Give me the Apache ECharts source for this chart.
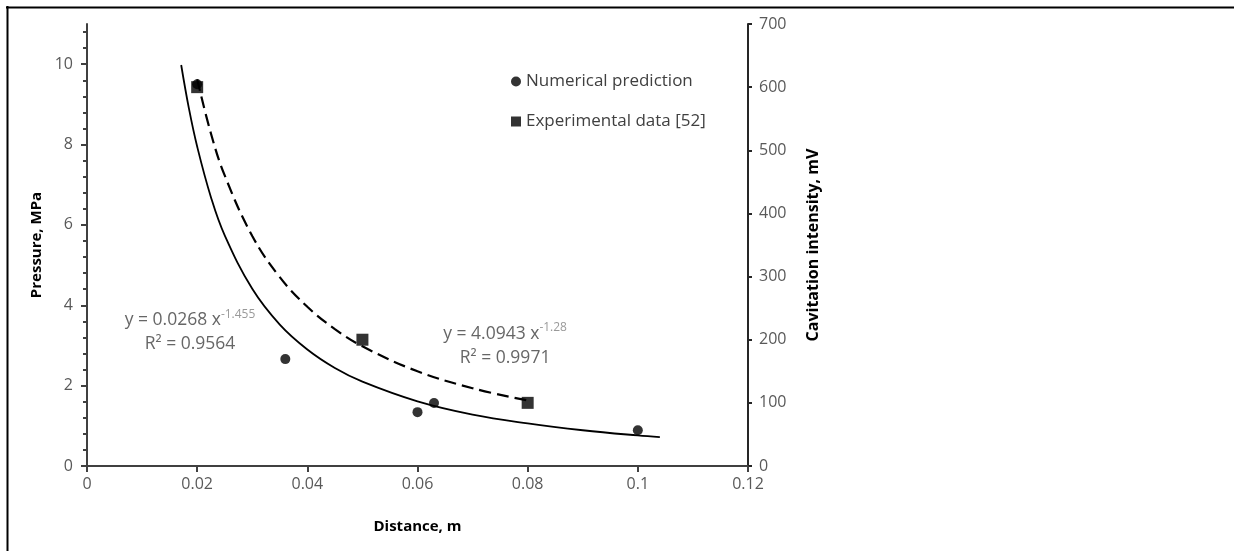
<!DOCTYPE html>
<html>
<head>
<meta charset="utf-8">
<script src="https://cdn.jsdelivr.net/npm/echarts@6/dist/echarts.min.js"></script>
<style>
html,body{margin:0;padding:0;background:#fff;}
#chart{width:1234px;height:551px;}
</style>
</head>
<body>
<div id="chart"></div>
<script>
// ---- data ----
const numericalX = [0.02, 0.036, 0.06, 0.063, 0.1];
const numericalY = [9.5, 2.66, 1.34, 1.57, 0.89];          // Pressure, MPa
const experimentalX = [0.02, 0.05, 0.08];
const experimentalY = [600, 200, 100];                      // Cavitation intensity, mV
// trendline y = 0.0268 x^-1.455
const fitNumX = [0.0171, 0.0185, 0.02, 0.0225, 0.025, 0.03, 0.035, 0.04, 0.045, 0.05, 0.06, 0.07, 0.08, 0.09, 0.1, 0.104];
const fitNumY = [9.98, 8.90, 7.95, 6.69, 5.74, 4.41, 3.52, 2.90, 2.44, 2.10, 1.61, 1.28, 1.06, 0.89, 0.76, 0.72];
// trendline y = 4.0943 x^-1.28
const fitExpX = [0.02, 0.0225, 0.025, 0.03, 0.035, 0.04, 0.045, 0.05, 0.06, 0.07, 0.08];
const fitExpY = [612.6, 526.6, 460.2, 364.4, 299.1, 252.1, 216.8, 189.5, 150.0, 123.2, 103.8];
const leftMajorTicks = [0, 2, 4, 6, 8, 10];
const leftMinorTicks = [0.4, 0.8, 1.2, 1.6, 2.4, 2.8, 3.2, 3.6, 4.4, 4.8, 5.2, 5.6, 6.4, 6.8, 7.2, 7.6, 8.4, 8.8, 9.2, 9.6, 10.4, 10.8];
const eq1 = ['y = 0.0268 x', '-1.455', 'R² = 0.9564'];
const eq2 = ['y = 4.0943 x', '-1.28', 'R² = 0.9971'];
const eq1Pos = [0.0187, 3.33];
const eq2Pos = [0.0759, 2.99];

const FONT = '"Open Sans", "Noto Sans", sans-serif';
const zip = (a, b) => a.map((v, i) => [v, b[i]]);

const chart = echarts.init(document.getElementById('chart'), null, {renderer: 'canvas'});

const eqRich = {
  a: {fontSize: 17.5, color: '#404040', fontFamily: FONT, lineHeight: 24},
  s: {fontSize: 12, color: '#7f7f7f', fontFamily: FONT, verticalAlign: 'top', lineHeight: 24}
};

const option = {
  animation: false,
  backgroundColor: '#fff',
  textStyle: {fontFamily: FONT},
  grid: {left: 87, right: 486, top: 24, bottom: 85, containLabel: false},
  legend: {
    orient: 'vertical',
    left: 511,
    top: 73,
    padding: 0,
    itemGap: 23,
    itemWidth: 10,
    itemHeight: 10,
    textStyle: {fontSize: 17, color: '#404040', fontFamily: FONT},
    data: [
      {name: 'Numerical prediction', icon: 'circle'},
      {name: 'Experimental data [52]', icon: 'rect'}
    ]
  },
  xAxis: {
    type: 'value', min: 0, max: 0.12, interval: 0.02,
    name: 'Distance, m', nameLocation: 'middle', nameGap: 53,
    nameTextStyle: {fontSize: 15, fontWeight: 'bold', color: '#000', fontFamily: FONT},
    axisLine: {show: true, lineStyle: {color: '#404040', width: 2}},
    axisTick: {show: true, inside: false, length: 6, lineStyle: {color: '#404040', width: 2}},
    axisLabel: {fontSize: 16, color: '#595959', margin: 10, fontFamily: FONT},
    splitLine: {show: false}
  },
  yAxis: [
    {
      type: 'value', min: 0, max: 11, interval: 2, position: 'left',
      name: 'Pressure, MPa', nameLocation: 'middle', nameGap: 35,
      nameTextStyle: {fontSize: 15, fontWeight: 'bold', color: '#000', fontFamily: FONT},
      axisLine: {show: true, lineStyle: {color: '#404040', width: 2}},
      axisTick: {show: true, length: 6, customValues: leftMajorTicks, lineStyle: {color: '#404040', width: 2}},
      axisLabel: {fontSize: 16, color: '#595959', margin: 14, customValues: leftMajorTicks, fontFamily: FONT},
      splitLine: {show: false}
    },
    {
      type: 'value', min: 0, max: 11, position: 'left',
      axisLine: {show: false},
      axisTick: {show: true, length: 4, customValues: leftMinorTicks, lineStyle: {color: '#404040', width: 2}},
      axisLabel: {show: false},
      splitLine: {show: false}
    },
    {
      type: 'value', min: 0, max: 700, interval: 100, position: 'right',
      name: 'Cavitation intensity, mV', nameLocation: 'middle', nameGap: 57,
      nameTextStyle: {fontSize: 16, fontWeight: 'bold', color: '#000', fontFamily: FONT},
      axisLine: {show: true, lineStyle: {color: '#262626', width: 2}},
      axisTick: {show: true, length: 4, lineStyle: {color: '#262626', width: 2}},
      axisLabel: {fontSize: 16, color: '#595959', margin: 11, fontFamily: FONT},
      splitLine: {show: false}
    }
  ],
  series: [
    {
      name: 'fitNum', type: 'line', yAxisIndex: 0, smooth: 0.4, showSymbol: false, symbol: 'none',
      data: zip(fitNumX, fitNumY),
      lineStyle: {color: '#000', width: 1.8, type: 'solid'},
      z: 2, silent: true
    },
    {
      name: 'fitExp', type: 'line', yAxisIndex: 2, smooth: 0.4, showSymbol: false, symbol: 'none',
      data: zip(fitExpX, fitExpY),
      lineStyle: {color: '#000', width: 2.2, type: [12, 6]},
      z: 2, silent: true
    },
    {
      name: 'Numerical prediction', type: 'scatter', yAxisIndex: 0,
      symbol: 'circle', symbolSize: 10,
      itemStyle: {color: '#000'},
      data: zip(numericalX, numericalY), z: 3
    },
    {
      name: 'Experimental data [52]', type: 'scatter', yAxisIndex: 2,
      symbol: 'rect', symbolSize: 12,
      itemStyle: {color: '#000'},
      data: zip(experimentalX, experimentalY), z: 4
    },
    {
      name: 'eq', type: 'scatter', yAxisIndex: 0, symbolSize: 0, silent: true,
      itemStyle: {color: 'transparent'},
      label: {
        show: true, position: 'inside', align: 'center', verticalAlign: 'middle',
        rich: eqRich,
        formatter: (p) => {
          const e = p.dataIndex === 0 ? eq1 : eq2;
          return '{a|' + e[0] + '}{s|' + e[1] + '}\n{a|' + e[2] + '}';
        }
      },
      data: [eq1Pos, eq2Pos], z: 5
    }
  ],
  graphic: [
    {type: 'line', shape: {x1: 6, y1: 7.5, x2: 1234, y2: 7.5}, style: {stroke: '#000', lineWidth: 2}},
    {type: 'line', shape: {x1: 7.5, y1: 6, x2: 7.5, y2: 551}, style: {stroke: '#000', lineWidth: 2}}
  ]
};
chart.setOption(option);
</script>
</body>
</html>
